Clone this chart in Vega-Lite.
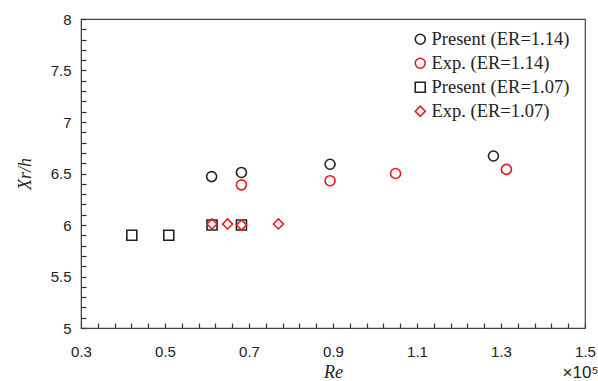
{
  "$schema": "https://vega.github.io/schema/vega-lite/v6.json",
  "width": 504,
  "height": 309,
  "autosize": "none",
  "padding": {"left": 81, "top": 19, "right": 13, "bottom": 53},
  "background": "white",
  "config": {
    "view": {"stroke": "#444", "strokeWidth": 1.2},
    "axis": {"grid": false, "domainColor": "#444", "tickColor": "#333", "labelColor": "#222", "titleColor": "#222", "labelFont": "Liberation Sans", "labelFontSize": 15, "labelOverlap": false, "tickSize": -5, "tickWidth": 1.2}
  },
  "data": {"values": [
    {"series": "Present (ER=1.14)", "Re": 0.611, "xr": 6.47},
    {"series": "Present (ER=1.14)", "Re": 0.682, "xr": 6.51},
    {"series": "Present (ER=1.14)", "Re": 0.893, "xr": 6.59},
    {"series": "Present (ER=1.14)", "Re": 1.282, "xr": 6.67},
    {"series": "Exp. (ER=1.14)", "Re": 0.682, "xr": 6.39},
    {"series": "Exp. (ER=1.14)", "Re": 0.893, "xr": 6.43},
    {"series": "Exp. (ER=1.14)", "Re": 1.049, "xr": 6.5},
    {"series": "Exp. (ER=1.14)", "Re": 1.313, "xr": 6.54},
    {"series": "Present (ER=1.07)", "Re": 0.421, "xr": 5.9},
    {"series": "Present (ER=1.07)", "Re": 0.509, "xr": 5.9},
    {"series": "Present (ER=1.07)", "Re": 0.612, "xr": 6.0},
    {"series": "Present (ER=1.07)", "Re": 0.682, "xr": 6.0},
    {"series": "Exp. (ER=1.07)", "Re": 0.612, "xr": 6.01},
    {"series": "Exp. (ER=1.07)", "Re": 0.649, "xr": 6.01},
    {"series": "Exp. (ER=1.07)", "Re": 0.682, "xr": 6.0},
    {"series": "Exp. (ER=1.07)", "Re": 0.77, "xr": 6.01}
  ]},
  "resolve": {"axis": {"x": "independent"}},
  "layer": [
    {
      "mark": {"type": "point", "filled": false, "strokeWidth": 1.6, "size": 100, "opacity": 1},
      "encoding": {
        "x": {"field": "Re", "type": "quantitative",
          "scale": {"domain": [0.3, 1.5], "nice": false, "zero": false},
          "axis": {"orient": "bottom", "title": "Re", "titleFont": "Liberation Serif", "titleFontStyle": "italic", "titleFontWeight": "normal", "titleFontSize": 18, "titleY": 44, "titleBaseline": "middle",
            "values": [0.3,0.34,0.38,0.42,0.46,0.5,0.54,0.58,0.62,0.66,0.7,0.74,0.78,0.82,0.86,0.9,0.94,0.98,1.02,1.06,1.1,1.14,1.18,1.22,1.26,1.3,1.34,1.38,1.42,1.46,1.5],
            "labelExpr": "(round(datum.value*100) % 20 == 10) ? format(datum.value, '.1f') : ''",
            "labelFlush": false,
            "labelPadding": 21}},
        "y": {"field": "xr", "type": "quantitative",
          "scale": {"domain": [5, 8], "nice": false, "zero": false},
          "axis": {"title": "Xr/h", "titleFont": "Liberation Serif", "titleFontStyle": "italic", "titleFontWeight": "normal", "titleFontSize": 18, "titleX": -56, "titleBaseline": "middle",
            "values": [5,5.1,5.2,5.3,5.4,5.5,5.6,5.7,5.8,5.9,6,6.1,6.2,6.3,6.4,6.5,6.6,6.7,6.8,6.9,7,7.1,7.2,7.3,7.4,7.5,7.6,7.7,7.8,7.9,8],
            "labelExpr": "(round(datum.value*10) % 5 == 0) ? toString(round(datum.value*10)/10) : ''",
            "labelPadding": 15}},
        "color": {"field": "series", "type": "nominal",
          "scale": {"domain": ["Present (ER=1.14)", "Exp. (ER=1.14)", "Present (ER=1.07)", "Exp. (ER=1.07)"], "range": ["#222222", "#e8191e", "#222222", "#e8191e"]},
          "legend": {"title": null, "orient": "none", "legendX": 330, "legendY": 11, "labelFont": "Liberation Serif", "labelFontSize": 18.5, "labelColor": "#222", "symbolSize": 100, "symbolStrokeWidth": 1.6, "labelOffset": 2, "rowPadding": 5, "padding": 0, "labelLimit": 300}},
        "shape": {"field": "series", "type": "nominal",
          "scale": {"domain": ["Present (ER=1.14)", "Exp. (ER=1.14)", "Present (ER=1.07)", "Exp. (ER=1.07)"], "range": ["circle", "circle", "square", "diamond"]}}
      }
    },
    {
      "mark": {"type": "point", "opacity": 0},
      "encoding": {
        "x": {"field": "Re", "type": "quantitative",
          "axis": {"orient": "bottom", "title": "×10⁵", "labels": false, "ticks": false, "domain": false, "grid": false, "titleFont": "Liberation Sans", "titleFontSize": 17, "titleFontWeight": "normal", "titleAnchor": "end", "titleAlign": "right", "titleX": 517, "titleY": 44, "titleBaseline": "middle"}}
      }
    }
  ]
}
